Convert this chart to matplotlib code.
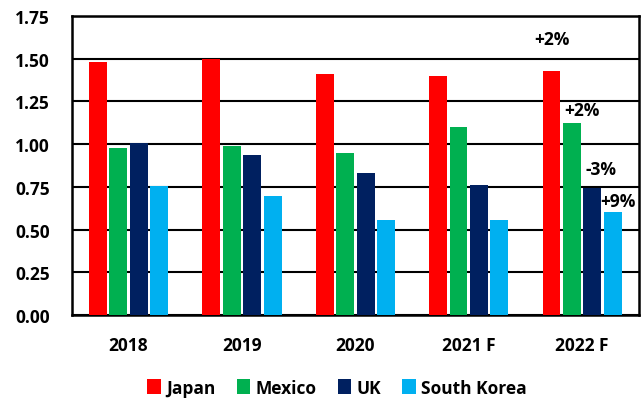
import numpy as np
import matplotlib
matplotlib.use("Agg")
import matplotlib.pyplot as plt

plt.rcParams['font.family'] = ['Open Sans', 'DejaVu Sans']
plt.rcParams['font.weight'] = 'bold'

years = ["2018", "2019", "2020", "2021 F", "2022 F"]
countries = ["Japan", "Mexico", "UK", "South Korea"]
japan = [1.48, 1.495, 1.41, 1.40, 1.425]
mexico = [0.975, 0.99, 0.945, 1.10, 1.125]
uk = [1.005, 0.935, 0.83, 0.76, 0.745]
south_korea = [0.755, 0.695, 0.555, 0.553, 0.60]
changes = ["+2%", "+2%", "-3%", "+9%"]  # 2022 F vs 2021 F

colors = ["#FF0000", "#00B050", "#002060", "#00B0F0"]

fig = plt.figure(figsize=(6.42, 4.02), dpi=100)
ax = fig.add_axes([0.112, 0.214, 0.883, 0.744])

x = np.arange(len(years))
slot = 0.18
width = 0.158
series = [japan, mexico, uk, south_korea]
for i, (vals, name, c) in enumerate(zip(series, countries, colors)):
    ax.bar(x + (i - 1.5) * slot, vals, width, color=c, label=name, zorder=3)

# growth labels over the last group
offsets = [(0, 17), (7, 3), (6, 7), (4, 2)]
for i, (lab, off) in enumerate(zip(changes, offsets)):
    ax.annotate(lab, (x[-1] + (i - 1.5) * slot, series[i][-1]),
                xytext=off, textcoords="offset points", ha="center", va="bottom",
                fontsize=12.5, fontweight="bold", annotation_clip=False)

ax.set_xlim(-0.5, len(years) - 0.5)
ax.set_ylim(0, 1.75)
ax.set_yticks(np.arange(0, 1.76, 0.25))
ax.set_yticklabels([f"{v:.2f}" for v in np.arange(0, 1.76, 0.25)])
ax.set_xticks(x)
ax.set_xticklabels(years)
ax.tick_params(axis="both", length=0, labelsize=12.5)
ax.tick_params(axis="x", pad=15)
ax.tick_params(axis="y", pad=16)
ax.yaxis.grid(True, color="black", linewidth=1.5, zorder=0)
ax.set_axisbelow(True)
for s in ax.spines.values():
    s.set_linewidth(1.8)
    s.set_color("black")

fig.legend(loc="lower center", ncol=4, frameon=False, fontsize=12.5,
           bbox_to_anchor=(0.525, -0.028), handlelength=0.8, handleheight=1.0,
           handletextpad=0.3, columnspacing=1.2)

fig.savefig("out.png", dpi=100)
